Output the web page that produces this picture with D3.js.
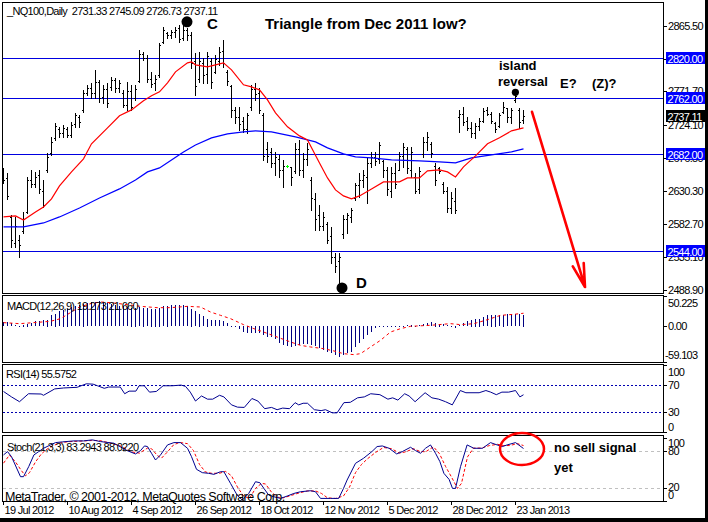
<!DOCTYPE html>
<html><head><meta charset="utf-8">
<script src="https://cdn.jsdelivr.net/npm/d3@7"></script>
<style>
html,body{margin:0;padding:0;background:#fff;}
svg{display:block;}
text{white-space:pre;}
</style></head><body>
<svg id="chart" width="708" height="522"></svg>
<script>
// ---------------- DATA ----------------
const symbol = "_NQ100", period = "Daily";
const barOpen = [2655,2648,2592,2556,2560,2572,2600,2645,2640,2652,
2630,2660,2684,2705,2718,2712,2718,2710,2725,2735,
2745,2770,2776,2770,2785,2764,2775,2778,2788,2776,
2770,2752,2772,2762,2786,2825,2820,2790,2784,2795,
2842,2855,2852,2856,2862,2848,2860,2852,2815,2790,
2812,2796,2815,2800,2815,2830,2800,2780,2745,2735,
2730,2718,2750,2775,2770,2738,2690,2685,2670,2676,
2660,2665.4,2664,2658,2690,2660,2675,2645,2618,2595,
2580,2582,2565,2535,2530,2568,2590,2592,2620,2638,
2645,2650,2670,2678,2675,2672,2660,2630,2655,2660,
2680,2690,2660,2650,2632,2682,2700,2696,2665,2662,
2640,2630,2605,2615,2735,2740,2730,2720,2712,2722,
2730,2745,2740,2726,2722,2742,2748,2735,2760,2745,
2731.33];
const barHigh = [2662.6,2655.5,2595.4,2592.6,2566.9,2599.7,2649.7,2659.7,2656.9,2659.7,
2645.4,2684,2706.9,2726.9,2721.2,2724,2721.2,2728.3,2741.2,2738.3,
2774,2781.2,2784,2802.6,2788.3,2781.2,2784,2792.6,2791.2,2788.3,
2774,2785.4,2781.2,2781.2,2831.2,2828.3,2824,2799.7,2795.4,2841.2,
2864,2856.9,2859.7,2864,2866.9,2866.9,2862.6,2856.9,2826.9,2828.3,
2819.7,2828.3,2819.7,2824,2835.5,2845.4,2802.6,2781.2,2749.7,2749.7,
2735.4,2741.2,2781.2,2784,2776.9,2741.2,2699.7,2691.2,2685.4,2681.2,
2674,2666.9,2664,2698.3,2702.6,2684,2698.3,2649.7,2626.9,2609.7,
2599.7,2585.4,2578.3,2541.1,2541.1,2595.4,2598.3,2605.4,2641.2,2655.5,
2659.7,2678.3,2685.4,2685.4,2699.7,2674,2664,2664,2669.7,2685.4,
2698.3,2692.6,2692.6,2655.5,2664,2706.9,2714,2699.7,2669.7,2664,
2642.6,2635.5,2628.3,2634,2745.4,2749.7,2735.4,2728.3,2726.9,2734,
2748.3,2749.7,2742.6,2728.3,2741.2,2756.9,2748.3,2748.3,2769.7,2748.3,
2745.09];
const barLow = [2641.2,2618.3,2549.7,2549.7,2535.4,2569.7,2598.3,2635.5,2635.5,2626.9,
2606.9,2656.9,2681.2,2702.6,2706.9,2706.9,2706.9,2706.9,2721.2,2721.2,
2742.6,2766.9,2762.6,2762.6,2756.9,2755.5,2749.7,2774,2771.2,2771.2,
2749.7,2745.4,2745.4,2759.7,2785.4,2816.9,2785.4,2778.3,2774,2792.6,
2841.2,2848.3,2848.3,2849.7,2842.6,2845.4,2845.4,2805.5,2766.9,2785.4,
2784,2784,2776.9,2798.3,2809.7,2806.9,2781.2,2735.4,2726.9,2716.9,
2714,2712.6,2745.4,2759.7,2741.2,2674,2671.2,2664,2652.6,2649.7,
2635.5,2664,2638.3,2655.5,2652.6,2649.7,2666.9,2602.6,2574,2574,
2574,2555.4,2526.9,2514,2488.3,2562.6,2569.7,2585.4,2616.9,2621.2,
2635.5,2612.6,2664,2666.9,2669.7,2649.7,2624,2621.2,2634,2659.7,
2664,2655.5,2649.7,2626.9,2626.9,2678.3,2688.3,2678.3,2638.3,2655.5,
2626.9,2599.7,2598.3,2598.3,2714,2724,2716.9,2706.9,2705.5,2716.9,
2728.3,2738.3,2726.9,2714,2721.2,2741.2,2728.3,2726.9,2756.9,2719.8,
2726.73];
const barClose = [2645,2622,2560,2580,2552,2590,2645,2640,2650,2632,
2610,2678,2700,2722,2712,2720,2710,2724,2738,2728,
2770,2776,2770,2785,2762,2775,2755,2788,2776,2784,
2752,2772,2750,2775,2825,2820,2790,2782,2790,2838,
2860,2852,2856,2860,2846,2860,2852,2812,2780,2815,
2795,2822,2785,2818,2828,2812,2786,2745,2735,2725,
2718,2738,2775,2768,2745,2680,2680,2670,2678,2660,
2665,2665.4,2650,2690,2660,2675,2690,2620,2590,2580,
2592,2560,2535,2522,2535,2590,2596,2602,2638,2645,
2652,2670,2678,2672,2695,2660,2632,2655,2640,2680,
2692,2662,2685,2630,2658,2700,2706,2684,2645,2658,
2630,2605,2620,2602,2740,2728,2720,2712,2722,2730,
2744,2740,2730,2718,2738,2750,2735,2745,2765,2728,
2737.11];

// moving averages: [bar index, price]
const maFast = [[0,2592.6],[3,2594],[5,2588.3],[8,2599.7],[10,2606.9],[12,2618.3],[14,2637],[17,2657],[20,2675.5],[22,2697],[26,2719.8],[29,2737],[32,2745.4],[35,2758.3],[37,2765.5],[39,2771.2],[41,2784],[43,2799.7],[46,2812.6],[47,2814],[48,2809.7],[51,2806.9],[54,2811.2],[55,2812.6],[57,2802.6],[60,2781.2],[62,2778.3],[64,2774],[66,2759.7],[68,2741.2],[71,2721.2],[74,2708.3],[76,2702.6],[79,2669.7],[81,2648.3],[83,2631.2],[85,2622.6],[87,2618.3],[89,2622.6],[92,2632.6],[95,2642.6],[99,2642.6],[101,2648.3],[104,2648.3],[106,2658.3],[109,2659.7],[111,2656.9],[113,2649.7],[115,2664],[118,2679.7],[121,2697],[124,2705.5],[127,2715.5],[130,2719.8]];
const maSlow = [[0,2578.3],[5,2578.3],[10,2584],[14,2592.6],[19,2605.4],[24,2619.7],[29,2632.6],[33,2645.4],[36,2656.9],[39,2662.6],[42,2674],[45,2685.4],[48,2695.4],[52,2705.5],[56,2711.2],[60,2714],[63,2715.5],[67,2714],[73,2706.9],[78,2699.7],[81,2691.2],[85,2682.6],[88,2678.3],[92,2676.9],[97,2674],[104,2672.6],[109,2671.2],[113,2669.7],[117,2676.9],[122,2681.2],[127,2685.4],[130,2689.7]];

const levelLines = [2820, 2762, 2682, 2544];
const priceTicks = [2865.50, 2817.90, 2771.70, 2724.10, 2676.50, 2630.30, 2582.70, 2535.10, 2488.90];

// MACD(12,26,9)
const macdMain = [7.2,7.2,5.5,1.7,0.5,2.8,4.4,5.5,8.3,8.8,
9.9,11,18.2,21,25.4,27.6,29.3,32,33.1,34.8,
37.5,38.6,40.3,40.3,42,40.3,38.6,36.4,34.8,33.1,
33.1,32,30.9,30.9,32,30.9,30.4,29.3,29.3,30.9,
33.1,34.2,34.8,34.8,34.8,34.8,33.1,29.3,25.4,21,
16.6,12.7,9.9,9.9,9.9,8.8,5.5,0.3,-2.2,-5,
-9.4,-12.1,-11,-11,-12.1,-14.9,-17.7,-18.8,-22.1,-28.7,
-31.5,-33.1,-34.2,-33.1,-31.5,-29.8,-30.4,-31.5,-33.1,-37,
-39.7,-42.5,-45.3,-48,-50.8,-48,-45.3,-42.5,-35.3,-28.7,
-22,-14.9,-9.4,-3.9,-1.1,-1.1,-0.3,0.5,0.5,1.1,
1.1,1.7,2.8,0.3,1.7,3.3,5.5,7.2,6,4.4,
3.3,1.7,0.3,-2.8,1.7,5.5,8.3,11,12.7,12.7,
15.5,18.2,19.3,19.3,18.2,19.3,19.8,20.4,20.4,20.0,
19.273];
const macdSignal = [[0,6.1],[4,4.4],[7.6,6.1],[11.75,8.3],[14.25,12.7],[17,23.7],[19,32],[21.75,37.5],[24.25,40.3],[26.75,39.2],[31,35.9],[34.25,33.1],[38.4,30.9],[41.75,30.9],[46,33.1],[49.25,32],[51.75,23.7],[54.25,18.2],[56.75,12.7],[60,2.8],[62.6,-3.9],[65,-9.4],[68.4,-17.7],[71.75,-25.9],[74.25,-31.5],[76.75,-34.2],[80,-37],[82.6,-40.8],[85,-45.3],[87.6,-46.9],[89.25,-45.3],[91.75,-34.2],[94.25,-23.2],[96.75,-9.4],[99.25,-3.9],[101.75,0],[106.75,1.7],[111.75,4.4],[114.25,2.8],[117.6,4.4],[121,11],[124.25,18.2],[127.6,19.9],[130,21.66]];
const macdRange = [-59.103, 50.225];

// RSI(14)
const rsiPts = [[0,60.5],[2,52.4],[4,45.2],[6.25,57.1],[9.4,56.7],[10,54.8],[12.8,64.3],[15,65.7],[18.4,66.7],[20.7,71.9],[22.4,71.4],[23.5,69],[25.2,65.2],[26.3,67.1],[29.2,67.1],[30.3,57.1],[31.4,61],[33.1,61],[33.9,69],[35.2,69],[36.5,59.5],[38.2,60.5],[39.9,69],[42.2,69],[44.4,70],[45.5,68.1],[46.7,59.5],[48,46.2],[49.5,53.8],[51,49],[52.3,49],[54,54.8],[55.1,52.4],[57,40.5],[58.5,37.1],[60.2,36.7],[62.1,50],[63.6,46.2],[65.3,34.8],[67,36.7],[68.4,33.3],[69.8,35.7],[71.5,34.8],[72.9,43.8],[73.8,40.5],[74.9,42.9],[76,42.9],[77.7,33.3],[79.4,31.9],[80.5,33.3],[82.2,28.6],[83.4,28.6],[85.1,43.8],[86.7,44.3],[88.5,51],[90.2,52.4],[91.8,57.1],[94.1,55.7],[96.1,49],[97.3,51],[98.6,47.6],[100.3,57.1],[101.4,53.8],[102.9,45.2],[105.4,58.6],[107.1,51],[108.8,49],[110.5,45.2],[112.2,40.5],[114.2,61.9],[115.6,58.6],[118.9,58.6],[120.6,61.9],[121.8,59.5],[123.2,55.7],[124.6,59.5],[126.3,59.5],[128,61.9],[129.1,52.4],[130,55.5752]];
const rsiLevels = [70, 30];
const rsiTicks = [100, 70, 30, 0];

// Stoch(21,3,3)
const stochK = [[0,73.1],[1,78.4],[2,70.4],[3.5,49.2],[4.25,38.6],[5,38.6],[6.3,54.5],[7.6,73.1],[8.8,78.4],[10,83.7],[11.75,89],[13,92.7],[14.7,93.8],[17.6,95.4],[20,95.4],[22.2,97],[24.25,94.3],[27.6,91.7],[30.9,80],[33,74.7],[34.25,80],[35.25,87.4],[36,86.4],[37,75.8],[38,65.1],[39.25,73.1],[41,89],[42.6,92.7],[44.25,92.7],[46,83.7],[47,70.4],[48.25,50.3],[49.7,45],[51.3,43.9],[52.6,42.3],[54.25,46.5],[55.1,46.5],[56.75,28],[58.4,9.4],[59.7,1.4],[61.3,12],[63,30.6],[64.1,29],[65.1,20],[66.3,9.4],[67.6,6.7],[69.25,4.1],[70.9,7.8],[72.6,12],[74.25,14.7],[76.75,16.3],[78,14.7],[79.25,4.1],[81.75,4.1],[83.8,4.1],[85,20],[85.9,33.3],[88,59.8],[90,67.8],[92.1,78.4],[93.4,86.4],[94.7,87.4],[96.4,83.7],[98.3,74.7],[99.7,78.4],[101.75,85.3],[103,80],[104.25,75.8],[105.5,83.7],[106.75,89],[108,75.8],[109.1,62.5],[110.1,43.9],[111.4,34.3],[112.25,20],[113,20],[114.25,54.5],[115.9,89],[117.6,83.7],[119.75,83.7],[121.75,92.7],[123.4,89],[124.7,86.4],[125.9,89],[128,92.7],[130,83.2943]];
const stochD = [[0,60],[1.5,73],[3,62],[4.5,48],[5.5,40],[6.5,45],[8,62],[9.5,75],[11,83],[12.5,88],[14,92],[16,94],[19,95],[22,96],[24,96],[26,93],[29,88],[32,78],[34,76],[36,84],[37,83],[38.5,72],[39.5,68],[41,78],[42.5,89],[44,93],[46,91],[47.5,80],[49,58],[50.5,46],[52,44],[54,44],[55.5,47],[57,40],[58.5,22],[60,8],[61.5,4],[63,20],[64.5,28],[65.5,27],[67,14],[68.5,6],[70,5],[72,9],[74,13],[76,16],[78,16],[79.5,12],[81,5],[83,4],[85,8],[86.5,22],[88,45],[89.5,58],[91,67],[93,77],[95,85],[97,83],[99,76],[100.5,78],[102.5,83],[104,79],[105.5,78],[107.5,86],[109,75],[110.5,55],[112,38],[113.5,20],[114.5,28],[116,70],[117.5,84],[119.5,84],[121.5,88],[123.5,90],[125,88],[126.5,88],[128.5,91],[130,88.022]];
const stochLevels = [80, 20];
const stochTicks = [100, 80, 20, 0];

// time axis
const dateTickIdx = [0,16,32,48,64,80,96,112,128];
const dateTickLabels = ["19 Jul 2012","10 Aug 2012","4 Sep 2012","26 Sep 2012","18 Oct 2012","12 Nov 2012","5 Dec 2012","28 Dec 2012","23 Jan 2013"];

// annotations [bar index, value]
const dotC = [46, 2871.2], dotD = [84.75, 2491.2], dotIsland = [128.1, 2770.5];
const textNotes = [
  {t:"Triangle from Dec 2011 low?", i:65.5, v:2861.2, size:15},
  {t:"C", i:51, v:2861.2, size:15},
  {t:"D", i:88.25, v:2491.2, size:15},
  {t:"island", i:124, v:2802.6, size:13},
  {t:"reversal", i:123.75, v:2779.7, size:13},
  {t:"E?", i:139.25, v:2776.9, size:13},
  {t:"(Z)?", i:147.25, v:2776.9, size:13}
];
const arrowFrom = [132.25, 2742.6], arrowTo = [145.5, 2492.6];
const stochCircle = [129.75, 82.5];
const stochNotes = [{t:"no sell signal", i:137.75, v:77.8},{t:"yet", i:137.75, v:46}];

// ---------------- DRAW ----------------
const FONT = '"Liberation Sans", Arial, sans-serif';
const svg = d3.select('#chart');
svg.append('rect').attr('width',708).attr('height',522).attr('fill','#fff');

const x = d3.scaleLinear().domain([0,165]).range([3,663]);
const px = i => Math.round(x(i));
const yMain = d3.scaleLinear().domain([2484,2898]).range([293,3]);
const yMacd = d3.scaleLinear().domain(macdRange).range([362,296]);
const yRsi = d3.scaleLinear().domain([0,100]).range([432,365]);
const ySto = d3.scaleLinear().domain([0,100]).range([501,438]);

const panels = [
  {id:'pMain', y0:2, y1:293},
  {id:'pMacd', y0:295, y1:362},
  {id:'pRsi', y0:364, y1:432},
  {id:'pSto', y0:435, y1:501}
];
const defs = svg.append('defs');
panels.forEach(p=>{
  defs.append('clipPath').attr('id',p.id).append('rect')
    .attr('x',3).attr('y',p.y0+1).attr('width',660).attr('height',p.y1-p.y0-1);
});

// ---- main panel ----
const gMain = svg.append('g').attr('clip-path','url(#pMain)');
gMain.selectAll('line.lvl').data(levelLines).join('line')
  .attr('x1',3).attr('x2',663)
  .attr('y1',d=>Math.round(yMain(d))+0.5).attr('y2',d=>Math.round(yMain(d))+0.5)
  .attr('stroke','#0000e0').attr('stroke-width',1);

const idx = d3.range(barClose.length);
const gBars = gMain.append('g').attr('shape-rendering','crispEdges');
idx.forEach(i=>{
  const xi = px(i);
  const doji = barOpen[i]===barClose[i];
  const col = doji ? '#00ff00' : '#000';
  const yH = Math.round(yMain(barHigh[i])), yL = Math.round(yMain(barLow[i]));
  gBars.append('rect').attr('x',xi).attr('y',yH).attr('width',1).attr('height',Math.max(1,yL-yH+1)).attr('fill',col);
  gBars.append('rect').attr('x',xi-1).attr('y',Math.round(yMain(barOpen[i]))).attr('width',1).attr('height',1).attr('fill',col);
  gBars.append('rect').attr('x',xi+1).attr('y',Math.round(yMain(barClose[i]))).attr('width',1).attr('height',1).attr('fill',col);
});

const lineMain = d3.line().x(d=>x(d[0])+0.5).y(d=>yMain(d[1]));
gMain.append('path').datum(maSlow).attr('d',lineMain).attr('fill','none').attr('stroke','#0000ff').attr('stroke-width',1.2);
gMain.append('path').datum(maFast).attr('d',lineMain).attr('fill','none').attr('stroke','#ff0000').attr('stroke-width',1.2);

// annotations in main
[dotC, dotD].forEach(d=>{
  svg.append('circle').attr('cx',x(d[0])).attr('cy',yMain(d[1])).attr('r',5.5).attr('fill','#000');
});
gMain.append('circle').attr('cx',x(dotIsland[0])).attr('cy',yMain(dotIsland[1])).attr('r',3.6).attr('fill','#000');
textNotes.forEach(n=>{
  svg.append('text').attr('x',x(n.i)).attr('y',yMain(n.v)).text(n.t)
    .attr('font-family',FONT).attr('font-weight','bold').attr('font-size',n.size).attr('fill','#000');
});
// arrow
{
  const x1=x(arrowFrom[0]), y1=yMain(arrowFrom[1]), x2=x(arrowTo[0]), y2=yMain(arrowTo[1]);
  const ang = Math.atan2(y1-y2, x1-x2), L=24, da=0.24;
  const h1=[x2+L*Math.cos(ang+da), y2+L*Math.sin(ang+da)], h2=[x2+L*Math.cos(ang-da), y2+L*Math.sin(ang-da)];
  svg.append('path').attr('d',`M${x1},${y1}L${x2},${y2}M${h1[0]},${h1[1]}L${x2},${y2}L${h2[0]},${h2[1]}`)
    .attr('fill','none').attr('stroke','#f00').attr('stroke-width',2.6).attr('stroke-linecap','round');
}

// ---- MACD ----
const gMacd = svg.append('g').attr('clip-path','url(#pMacd)');
gMacd.append('g').attr('shape-rendering','crispEdges').selectAll('rect').data(macdMain).join('rect')
  .attr('x',(d,i)=>px(i)).attr('width',1)
  .attr('y',d=>Math.round(Math.min(yMacd(d),yMacd(0))))
  .attr('height',d=>Math.max(1,Math.round(Math.abs(yMacd(d)-yMacd(0)))))
  .attr('fill','#000080');
gMacd.append('path').datum(macdSignal).attr('d',d3.line().x(d=>x(d[0])+0.5).y(d=>yMacd(d[1])))
  .attr('fill','none').attr('stroke','#ff0000').attr('stroke-width',1).attr('stroke-dasharray','3,3');

// ---- RSI ----
const gRsi = svg.append('g').attr('clip-path','url(#pRsi)');
gRsi.selectAll('line').data(rsiLevels).join('line')
  .attr('x1',3).attr('x2',663).attr('y1',d=>Math.round(yRsi(d))+0.5).attr('y2',d=>Math.round(yRsi(d))+0.5)
  .attr('stroke','#0000b0').attr('stroke-dasharray','2,2');
gRsi.append('path').datum(rsiPts).attr('d',d3.line().x(d=>x(d[0])+0.5).y(d=>yRsi(d[1])))
  .attr('fill','none').attr('stroke','#000090').attr('stroke-width',1);

// ---- Stoch ----
const gSto = svg.append('g').attr('clip-path','url(#pSto)');
gSto.selectAll('line').data(stochLevels).join('line')
  .attr('x1',3).attr('x2',663).attr('y1',d=>Math.round(ySto(d))+0.5).attr('y2',d=>Math.round(ySto(d))+0.5)
  .attr('stroke','#c0c0c0').attr('stroke-dasharray','3,3');
gSto.append('path').datum(stochD).attr('d',d3.line().x(d=>x(d[0])+0.5).y(d=>ySto(d[1])))
  .attr('fill','none').attr('stroke','#ff0000').attr('stroke-width',1).attr('stroke-dasharray','3,2');
gSto.append('path').datum(stochK).attr('d',d3.line().x(d=>x(d[0])+0.5).y(d=>ySto(d[1])))
  .attr('fill','none').attr('stroke','#000090').attr('stroke-width',1);

// ---- panel frames ----
panels.forEach(p=>{
  svg.append('rect').attr('x',2.5).attr('y',p.y0+0.5).attr('width',661).attr('height',p.y1-p.y0)
    .attr('fill','none').attr('stroke','#000').attr('stroke-width',1);
});

// ---- text helpers ----
function label(t, xx, yy, opts={}){
  return svg.append('text').attr('x',xx).attr('y',yy).text(t)
    .attr('font-family',FONT).attr('font-size',opts.size||11)
    .style('letter-spacing',(opts.ls!==undefined?opts.ls:-0.7)+'px')
    .attr('dominant-baseline',opts.db||'central')
    .attr('fill',opts.fill||'#000').attr('font-weight',opts.bold?'bold':'normal');
}
function tick(yy){
  svg.append('line').attr('x1',663).attr('x2',667).attr('y1',Math.round(yy)+0.5).attr('y2',Math.round(yy)+0.5).attr('stroke','#000');
}

// main price axis
priceTicks.forEach(v=>{ tick(yMain(v)); label(v.toFixed(2), 668, yMain(v)); });
levelLines.forEach(v=>{
  const yy = Math.round(yMain(v));
  svg.append('rect').attr('x',666).attr('y',yy-6).attr('width',39).attr('height',12).attr('fill','#0000ff');
  label(v.toFixed(2), 667.5, yy+0.5, {fill:'#fff'});
});
{
  const last = barClose[barClose.length-1];
  const yy = Math.round(yMain(last));
  svg.append('rect').attr('x',666).attr('y',yy-6).attr('width',39).attr('height',12).attr('fill','#000');
  label(last.toFixed(2), 667.5, yy+0.5, {fill:'#fff'});
}

// MACD axis
[[macdRange[1], 303],[0, null],[macdRange[0], 355]].forEach(([v,ly])=>{
  tick(yMacd(v));
  const s = v===0 ? '0.00' : String(v);
  label(s, v<0?665:668, ly===null?yMacd(v):ly);
});
// RSI axis
rsiTicks.forEach(v=>{
  tick(yRsi(v));
  const ly = v===100 ? 372 : v===0 ? 427 : yRsi(v);
  label(String(v), 668, ly);
});
// Stoch axis
stochTicks.forEach(v=>{
  tick(ySto(v));
  const ly = v===100 ? 443 : v===0 ? 494.5 : v===80 ? 451 : 487;
  label(String(v), 668, ly);
});

// titles
const n = barClose.length-1;
label(`${symbol},${period}  ${barOpen[n].toFixed(2)} ${barHigh[n].toFixed(2)} ${barLow[n].toFixed(2)} ${barClose[n].toFixed(2)}`, 7, 10.5);
label(`MACD(12,26,9) ${macdMain[n].toFixed(3)} ${macdSignal[macdSignal.length-1][1].toFixed(3)}`, 7, 305.5);
label(`RSI(14) ${rsiPts[rsiPts.length-1][1].toFixed(4)}`, 6, 374);
label(`Stoch(21,3,3) ${stochK[stochK.length-1][1].toFixed(4)} ${stochD[stochD.length-1][1].toFixed(4)}`, 7, 447);
label('MetaTrader, \u00a9 2001-2012, MetaQuotes Software Corp.', 5, 496.5, {size:12.5, ls:-0.5});

// stoch annotations
svg.append('ellipse').attr('cx',x(stochCircle[0])).attr('cy',ySto(stochCircle[1])).attr('rx',22).attr('ry',16)
  .attr('fill','none').attr('stroke','#f00').attr('stroke-width',2.5);
stochNotes.forEach(s=>{
  svg.append('text').attr('x',x(s.i)).attr('y',ySto(s.v)).text(s.t)
    .attr('font-family',FONT).attr('font-weight','bold').attr('font-size',13).attr('fill','#000');
});

// time axis
dateTickIdx.forEach((di,k)=>{
  const xi = px(di)+0.5;
  svg.append('line').attr('x1',xi).attr('x2',xi).attr('y1',501).attr('y2',505).attr('stroke','#000');
  label(dateTickLabels[k], xi+1, 510);
});

// window frame
svg.append('rect').attr('x',705).attr('y',0).attr('width',3).attr('height',522).attr('fill','#000');
svg.append('rect').attr('x',0).attr('y',518).attr('width',708).attr('height',4).attr('fill','#000');
</script>
</body></html>
